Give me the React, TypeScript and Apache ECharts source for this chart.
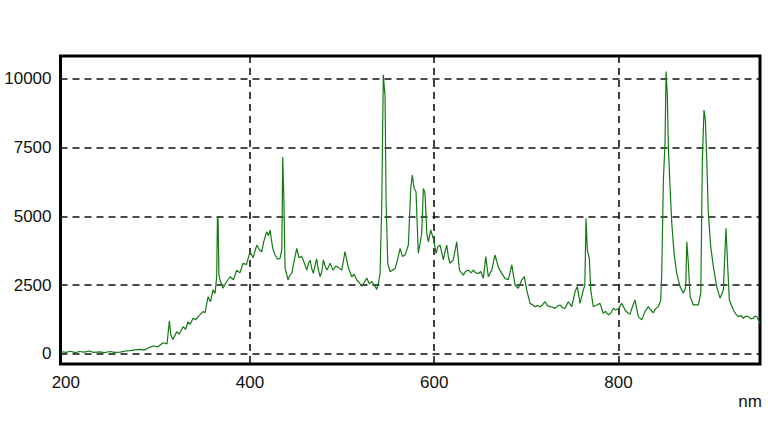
import React, { useEffect, useRef } from "react";
import * as echarts from "echarts";

const wavelengths: number[] = [
  195.9, 200, 205, 210, 215, 220, 225, 230, 237, 242, 248, 253, 259, 265, 270, 275, 281, 285, 290, 295,
  300, 305.5, 309.9, 312.4, 314, 316.1, 318, 320.4, 323, 327.3, 330, 332.7, 335, 338.1, 341, 345.7, 349, 351.1,
  354.4, 357, 359.8, 362, 363.8, 364.6, 365.3, 366.2, 367.4, 370.7, 374, 378.3, 382, 385.6, 389, 392.4, 396,
  400, 403.3, 407.3, 410, 412.7, 415, 418.1, 420, 421.7, 423.6, 425, 427.1, 430, 432.6, 434.5, 435.5, 436.8,
  438, 441.3, 443, 445.3, 448, 450.7, 453, 456.1, 459, 461.6, 463.5, 465.2, 467, 468.7, 470.5, 472.4, 474,
  476, 478, 479.6, 481.5, 483.3, 485, 486.9, 490.1, 493, 495.9, 499.6, 503.1, 506.7, 510.4, 513, 515.9, 518.5,
  521.3, 524, 526.7, 529.5, 532.1, 535, 537.6, 539.5, 541.2, 543, 544.7, 546.6, 547.7, 549.5, 552, 554.5,
  557.4, 560, 562.9, 565.5, 568.3, 571.9, 574.5, 576.2, 578.1, 580.2, 582.7, 584.5, 586.4, 588.2, 590, 591.9,
  593.6, 596.2, 599, 602, 604, 606.3, 608, 609.9, 611.5, 613.6, 615.5, 617.2, 620.7, 624.4, 627.3, 631.6, 634,
  637, 640, 642.5, 645, 647.9, 650.5, 653.3, 656, 658.7, 662.4, 666, 669.6, 673.3, 676.9, 680.5, 684.2, 687.7,
  691.3, 695, 697.8, 700.4, 704, 707, 709.4, 712, 714.9, 718, 720.3, 723, 725.7, 728.5, 731.2, 734, 736.6,
  739.5, 742, 745.6, 749.3, 752.9, 755.4, 758.3, 761.9, 763.5, 764.8, 766.2, 768.4, 769.9, 772.7, 776.4, 780,
  783.6, 786, 789, 792, 794.5, 797, 799.9, 803.6, 807.2, 810, 812.6, 815, 818, 821.6, 825.3, 828.9, 832.5,
  835, 837.9, 840.5, 843.3, 845.9, 847, 848.8, 850.6, 851.7, 853.1, 854.2, 856, 857.9, 860.4, 863.3, 866.9,
  870.5, 873.1, 874.2, 875.9, 877.8, 881.3, 884, 886.7, 889.4, 891.1, 892.9, 894.4, 895.9, 897.6, 900.2,
  903.1, 906.7, 910.3, 913.9, 915.4, 916.8, 918.3, 920.4, 924.8, 927.5, 930.2, 933, 935.6, 938.5, 941.1,
  943.8, 946.5, 948.5, 950.2, 953.7,
];

const intensities: number[] = [
  80, 60, 100, 50, 90, 70, 110, 60, 80, 50, 90, 60, 70, 110, 120, 150, 170, 140, 230, 290,
  260, 410, 370, 1210, 700, 530, 650, 810, 720, 990, 900, 1170, 1080, 1300, 1250, 1430, 1540, 1500,
  2080, 1900, 2330, 2200, 2810, 4970, 4900, 2900, 2690, 2390, 2600, 2810, 2700, 3050, 2950, 3300, 3250,
  3720, 3500, 3960, 3800, 3720, 4100, 4450, 4300, 4510, 4060, 3800, 3600, 3450, 3480, 3800, 7160, 5500,
  3130, 2690, 2850, 2930, 3400, 3840, 3500, 3550, 3300, 3050, 3300, 3410, 3100, 2930, 3200, 3460, 3100,
  2810, 3000, 3420, 3200, 3050, 3150, 3300, 3050, 3200, 3150, 3050, 3720, 3150, 2810, 2900, 2690, 2600,
  2470, 2600, 2760, 2550, 2640, 2500, 2350, 2600, 2930, 5420, 10150, 9360, 5600, 3300, 2990, 3050,
  3100, 3400, 3840, 3550, 3600, 3960, 6020, 6510, 6020, 5900, 3660, 4000, 4390, 6020, 5840, 4390,
  4080, 4510, 4200, 3660, 3900, 3960, 3700, 3420, 3700, 3960, 3500, 3300, 3420, 4080, 3050, 2870, 3000,
  3050, 2950, 3050, 2950, 2930, 3000, 2750, 3540, 2810, 3050, 3600, 3150, 2930, 2750, 2700, 3240, 2510,
  2390, 2690, 2810, 2330, 1840, 1780, 1720, 1760, 1720, 1800, 1900, 1750, 1720, 1700, 1660, 1750, 1780,
  1680, 1660, 1900, 1720, 2270, 2450, 1840, 2330, 2500, 4930, 3780, 3480, 2330, 1720, 1780, 1840,
  1480, 1550, 1420, 1500, 1660, 1600, 1640, 1840, 1600, 1500, 1450, 1700, 1960, 1360, 1240, 1550, 1720,
  1600, 1500, 1650, 1720, 1960, 2930, 6330, 7700, 10270, 9360, 7540, 6080, 4750, 3660, 2930, 2450,
  2210, 2450, 4080, 3300, 2090, 1780, 1800, 1780, 2210, 7050, 8870, 8500, 7050, 5120, 3900,
  3170, 2450, 2030, 2330, 3540, 4570, 3420, 1960, 1600, 1450, 1360, 1400, 1300, 1380, 1360,
  1280, 1300, 1380, 1360, 1120,
];

const xLabelValues: number[] = [200, 400, 600, 800];
const xGridValues: number[] = [400, 600, 800];
const yTickValues: number[] = [0, 2500, 5000, 7500, 10000];
const xUnit = "nm";

export default function App() {
  const ref = useRef<HTMLDivElement>(null);

  useEffect(() => {
    if (!ref.current) return;
    const chart = echarts.init(ref.current, null, { renderer: "svg" });
    const font = "'Liberation Sans', Arial, sans-serif";
    const data = wavelengths.map((w, i) => [w, intensities[i]]);
    chart.setOption({
      animation: false,
      backgroundColor: "#fff",
      grid: {
        left: 60.5,
        right: 8,
        top: 56,
        bottom: 84,
        show: true,
        borderColor: "#000",
        borderWidth: 3,
        backgroundColor: "transparent",
        containLabel: false,
        outerBoundsMode: "none",
      },
      xAxis: {
        type: "value",
        min: 194.2,
        max: 953.7,
        axisLine: { show: false },
        axisTick: { show: false, customValues: xGridValues },
        axisLabel: {
          customValues: xLabelValues,
          formatter: (v: number) => String(v),
          margin: 10,
          color: "#111",
          fontSize: 17,
          fontFamily: font,
        },
        splitLine: {
          show: true,
          lineStyle: { color: "#111", type: [7, 5], width: 1.6 },
        },
      },
      yAxis: {
        type: "value",
        min: -364,
        max: 10836,
        axisLine: { show: false },
        axisTick: { show: false, customValues: yTickValues },
        axisLabel: {
          customValues: yTickValues,
          formatter: (v: number) => String(v),
          margin: 9,
          color: "#111",
          fontSize: 17,
          fontFamily: font,
        },
        splitLine: {
          show: true,
          lineStyle: { color: "#111", type: [7, 5], width: 1.6 },
        },
      },
      graphic: [
        {
          type: "text",
          x: 750,
          y: 401,
          style: {
            text: xUnit,
            fill: "#111",
            fontSize: 17,
            fontFamily: font,
            align: "center",
            verticalAlign: "middle",
          },
        },
      ],
      series: [
        {
          type: "line",
          data,
          showSymbol: false,
          symbol: "none",
          lineStyle: { color: "#137a13", width: 1.2 },
          z: 3,
        },
      ],
    });
    return () => chart.dispose();
  }, []);

  return (
    <div
      ref={ref}
      style={{ position: "fixed", left: 0, top: 0, width: 768, height: 448 }}
    />
  );
}
